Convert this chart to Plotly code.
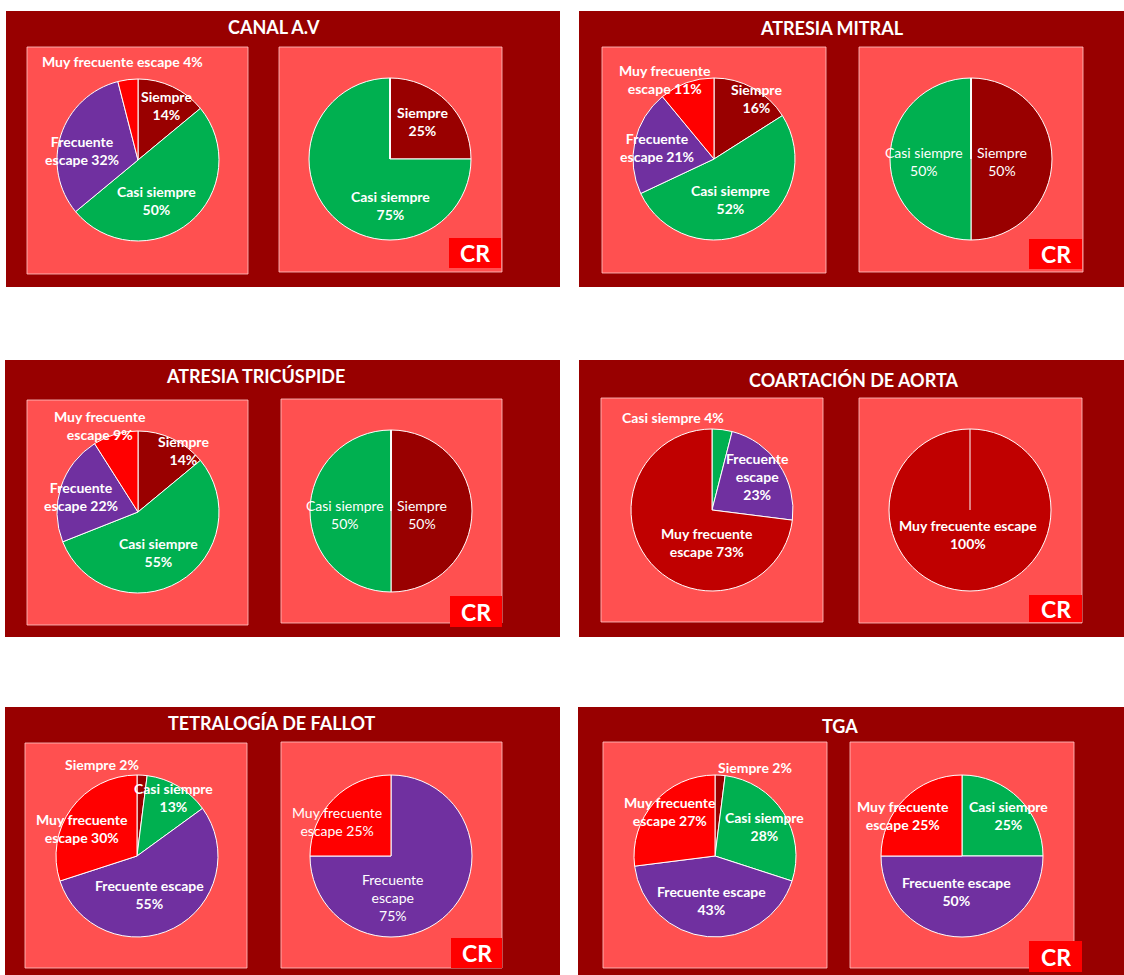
import plotly.graph_objects as go

W, H = 1124, 975

CATEGORIAS = ["Siempre", "Casi siempre", "Frecuente escape", "Muy frecuente escape"]
COLORES = ["#990000", "#00B050", "#7030A0", "#FF0000"]
TITULOS = ["CANAL A.V", "ATRESIA MITRAL", "ATRESIA TRICÚSPIDE",
           "COARTACIÓN DE AORTA", "TETRALOGÍA DE FALLOT", "TGA"]

# porcentajes por categoria (Siempre, Casi siempre, Frecuente escape, Muy frecuente escape)
CANAL_AV = [14, 50, 32, 4]
CANAL_AV_CR = [25, 75, 0, 0]
ATRESIA_MITRAL = [16, 52, 21, 11]
ATRESIA_MITRAL_CR = [50, 50, 0, 0]
ATRESIA_TRICUSPIDE = [14, 55, 22, 9]
ATRESIA_TRICUSPIDE_CR = [50, 50, 0, 0]
COARTACION = [0, 4, 23, 73]
COARTACION_CR = [0, 0, 0, 100]
FALLOT = [2, 13, 55, 30]
FALLOT_CR = [0, 0, 75, 25]
TGA = [2, 28, 43, 27]
TGA_CR = [0, 25, 50, 25]

DATOS = [
    (CANAL_AV, CANAL_AV_CR),
    (ATRESIA_MITRAL, ATRESIA_MITRAL_CR),
    (ATRESIA_TRICUSPIDE, ATRESIA_TRICUSPIDE_CR),
    (COARTACION, COARTACION_CR),
    (FALLOT, FALLOT_CR),
    (TGA, TGA_CR),
]

# geometria en pixeles: caja exterior, titulo, cuadros, centros de pie y etiquetas
# etiquetas: (indice categoria, x, y, palabras por linea)
PANELES = [
    dict(caja=(6, 11, 560, 287), titulo=(274, 27), pies=[
        dict(cuadro=(27, 47, 248, 274), centro=(138, 160), bold=True,
             etiquetas=[(0, 166, 106, (1, 1)), (1, 156, 201, (2, 1)),
                        (2, 82, 151, (1, 2)), (3, 122, 62, (4,))]),
        dict(cuadro=(279, 47, 502, 272), centro=(390, 159), bold=True, cr=(449, 238, 501, 268),
             etiquetas=[(0, 422, 121, (1, 1)), (1, 390, 206, (2, 1))]),
    ]),
    dict(caja=(579, 11, 1124, 287), titulo=(832, 28), pies=[
        dict(cuadro=(602, 47, 826, 273), centro=(714, 159), bold=True,
             etiquetas=[(0, 756, 98, (1, 1)), (1, 730, 199, (2, 1)),
                        (2, 657, 147, (1, 2)), (3, 665, 79, (2, 2))]),
        dict(cuadro=(859, 47, 1083, 272), centro=(971, 159), bold=False, cr=(1029, 239, 1082, 269),
             etiquetas=[(0, 1002, 162, (1, 1)), (1, 924, 162, (2, 1))]),
    ]),
    dict(caja=(5, 360, 560, 637), titulo=(255, 376), pies=[
        dict(cuadro=(27, 400, 248, 625), centro=(138, 512), bold=True,
             etiquetas=[(0, 183, 450, (1, 1)), (1, 158, 552, (2, 1)),
                        (2, 81, 496, (1, 2)), (3, 100, 425, (2, 2))]),
        dict(cuadro=(281, 399, 502, 623), centro=(391, 511), bold=False, cr=(450, 596, 502, 627),
             etiquetas=[(0, 422, 514, (1, 1)), (1, 345, 514, (2, 1))]),
    ]),
    dict(caja=(579, 360, 1124, 637), titulo=(853, 380), pies=[
        dict(cuadro=(601, 398, 823, 622), centro=(712, 510), bold=True, muy="#C00000",
             etiquetas=[(1, 673, 417, (3,)), (2, 757, 476, (1, 1, 1)),
                        (3, 707, 542, (2, 2))]),
        dict(cuadro=(859, 398, 1082, 623), centro=(970, 510), bold=True, muy="#C00000",
             cr=(1029, 595, 1082, 622),
             etiquetas=[(3, 968, 534, (3, 1))]),
    ]),
    dict(caja=(5, 707, 560, 975), titulo=(272, 723), pies=[
        dict(cuadro=(25, 743, 247, 968), centro=(137, 856), bold=True,
             etiquetas=[(0, 102, 764, (2,)), (1, 173, 797, (2, 1)),
                        (2, 150, 894, (2, 1)), (3, 82, 828, (2, 2))]),
        dict(cuadro=(281, 742, 502, 968), centro=(391, 856), bold=False, cr=(451, 938, 502, 968),
             etiquetas=[(2, 393, 897, (1, 1, 1)), (3, 337, 821, (2, 2))]),
    ]),
    dict(caja=(578, 707, 1124, 975), titulo=(840, 726), pies=[
        dict(cuadro=(603, 742, 827, 968), centro=(715, 856), bold=True,
             etiquetas=[(0, 755, 767, (2,)), (1, 764, 826, (2, 1)),
                        (2, 711, 900, (2, 1)), (3, 670, 811, (2, 2))]),
        dict(cuadro=(850, 742, 1074, 968), centro=(962, 856), bold=True, cr=(1029, 941, 1082, 972),
             etiquetas=[(1, 1008, 815, (2, 1)), (2, 956, 891, (2, 1)),
                        (3, 903, 815, (2, 2))]),
    ]),
]

RADIO = 81
FUENTE = "Lato, 'Open Sans', sans-serif"


def px_x(x):
    return x / W


def px_y(y):
    return 1 - y / H


def etiqueta(cat, valor, lineas):
    palabras = cat.split() + [f"{valor}%"]
    out, i = [], 0
    for n in lineas:
        out.append(" ".join(palabras[i:i + n]))
        i += n
    return "<br>".join(out)


def rect(x0, y0, x1, y1, fill, line=None):
    return dict(type="rect", xref="paper", yref="paper", layer="below",
                x0=px_x(x0), x1=px_x(x1), y0=px_y(y1), y1=px_y(y0),
                fillcolor=fill,
                line=dict(color=line or fill, width=1 if line else 0))


fig = go.Figure()
shapes, annotations = [], []

for panel, titulo, valores in zip(PANELES, TITULOS, DATOS):
    shapes.append(rect(*panel["caja"], "#980000"))
    tx, ty = panel["titulo"]
    annotations.append(dict(
        x=px_x(tx), y=px_y(ty), xref="paper", yref="paper", showarrow=False,
        text=f"<b>{titulo}</b>", font=dict(family=FUENTE, size=18, color="white"),
        xanchor="center", yanchor="middle",
    ))
    for pie, vals in zip(panel["pies"], valores):
        shapes.append(rect(*pie["cuadro"], "#FF5050", line="rgba(255,200,200,0.8)"))
        cx, cy = pie["centro"]
        colores = COLORES[:3] + [pie.get("muy", COLORES[3])]
        fig.add_trace(go.Pie(
            labels=CATEGORIAS, values=vals, sort=False, direction="clockwise",
            rotation=0, textinfo="none", hoverinfo="label+percent",
            marker=dict(colors=colores, line=dict(color="white", width=1)),
            domain=dict(x=[px_x(cx - RADIO), px_x(cx + RADIO)],
                        y=[px_y(cy + RADIO), px_y(cy - RADIO)]),
            showlegend=False,
        ))
        # un solo sector al 100%: Excel deja visible el borde de inicio
        if max(vals) == sum(vals):
            shapes.append(dict(type="line", xref="paper", yref="paper", layer="above",
                               x0=px_x(cx), x1=px_x(cx), y0=px_y(cy), y1=px_y(cy - RADIO),
                               line=dict(color="white", width=1)))
        for idx, lx, ly, lineas in pie["etiquetas"]:
            texto = etiqueta(CATEGORIAS[idx], vals[idx], lineas)
            if pie["bold"]:
                texto = "<b>" + texto.replace("<br>", "</b><br><b>") + "</b>"
            annotations.append(dict(
                x=px_x(lx), y=px_y(ly), xref="paper", yref="paper", showarrow=False,
                text=texto, font=dict(family=FUENTE, size=14, color="white"),
                xanchor="center", yanchor="middle", align="center",
            ))
        if "cr" in pie:
            x0, y0, x1, y1 = pie["cr"]
            shapes.append(dict(type="rect", xref="paper", yref="paper", layer="above",
                               x0=px_x(x0), x1=px_x(x1), y0=px_y(y1), y1=px_y(y0),
                               fillcolor="#FF0000", line=dict(width=0)))
            annotations.append(dict(
                x=px_x((x0 + x1) / 2), y=px_y((y0 + y1) / 2), xref="paper", yref="paper",
                showarrow=False, text="<b>CR</b>",
                font=dict(family=FUENTE, size=23, color="white"),
                xanchor="center", yanchor="middle",
            ))

fig.update_layout(
    width=W, height=H,
    margin=dict(l=0, r=0, t=0, b=0),
    paper_bgcolor="white",
    shapes=shapes,
    annotations=annotations,
)

fig.write_html("out.html", config={"displayModeBar": False},
               post_script="document.body.style.margin='0';")
